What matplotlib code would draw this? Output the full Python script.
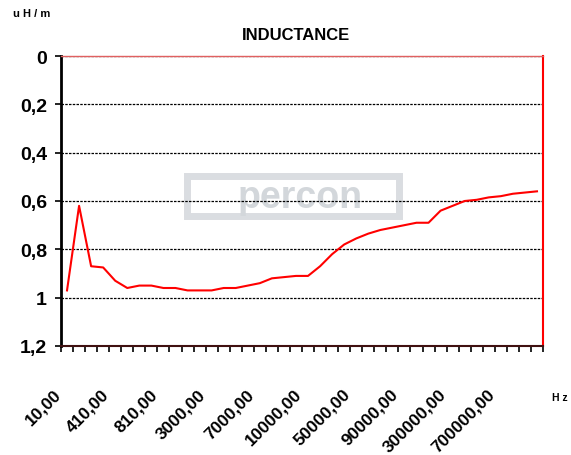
import numpy as np
import matplotlib.pyplot as plt
from matplotlib.patches import Rectangle

# inductance readings, one per frequency step (uH/m)
inductance = [0.97, 0.62, 0.87, 0.875, 0.93, 0.96, 0.95, 0.95, 0.96, 0.96,
              0.97, 0.97, 0.97, 0.96, 0.96, 0.95, 0.94, 0.92, 0.915, 0.91,
              0.91, 0.87, 0.82, 0.78, 0.755, 0.735, 0.72, 0.71, 0.70, 0.69,
              0.69, 0.64, 0.62, 0.60, 0.595, 0.585, 0.58, 0.57, 0.565, 0.56]
# frequency labels shown on the axis (every 4th step)
freq_labels = ["10,00", "410,00", "810,00", "3000,00", "7000,00", "10000,00",
               "50000,00", "90000,00", "300000,00", "700000,00"]
LABEL_STEP = 4
y_ticks = [0, 0.2, 0.4, 0.6, 0.8, 1.0, 1.2]
y_ticklabels = ["0", "0,2", "0,4", "0,6", "0,8", "1", "1,2"]

plt.rcParams["font.family"] = ["Liberation Sans", "DejaVu Sans"]

fig = plt.figure(figsize=(5.71, 4.56), dpi=100)
ax = fig.add_axes([61/571, 1-347/456, 482/571, 290/456])

n = len(inductance)
x = np.arange(n) + 0.5
ax.plot(x, inductance, color="red", linewidth=1.5, zorder=3)

ax.set_xlim(0, n)
ax.set_ylim(1.2, 0)
ax.set_yticks(y_ticks)
ax.set_yticklabels(y_ticklabels, fontsize=14, fontweight="bold")
for v in y_ticks[:-1]:
    ax.axhline(v, color="black", linestyle=(0, (2, 1)), linewidth=0.9, zorder=2)

# ticks between categories, labels on every 4th category centre
ax.set_xticks(np.arange(n + 1))
ax.set_xticklabels([])
ax.tick_params(axis="x", direction="out", length=4, width=1.2)
ax.tick_params(axis="y", direction="out", length=4, width=1.2, pad=6)
for i, lab in enumerate(freq_labels):
    xc = i * LABEL_STEP + 0.5
    ax.annotate(lab, xy=(xc, 1.2), xycoords="data", xytext=(-14, -40),
                textcoords="offset pixels",
                rotation=45, rotation_mode="anchor", ha="right", va="top",
                fontsize=12.5, fontweight="heavy",
                annotation_clip=False)

ax.spines["left"].set_color("black")
ax.spines["left"].set_linewidth(2)
ax.spines["bottom"].set_color("#401010")
ax.spines["bottom"].set_linewidth(1.5)
ax.spines["top"].set_color("#e06060")
ax.spines["top"].set_linewidth(1)
ax.spines["right"].set_color("red")
ax.spines["right"].set_linewidth(1.5)

# faint logo watermark, drawn under the grid
ax.add_patch(Rectangle((0.262, 0.447), 0.44, 0.138, transform=ax.transAxes,
                       facecolor="white", edgecolor="#dadde1",
                       linewidth=5, zorder=0.5))
ax.text(0.496, 0.515, "percon", transform=ax.transAxes, ha="center",
        va="center", fontsize=27, fontweight="bold", color="#d3d7db",
        zorder=0.6)

fig.text(296/571, 1-36/456, "INDUCTANCE", ha="center", va="center",
         fontsize=12, fontweight="bold")
fig.text(32/571, 1-14/456, "u H / m", ha="center", va="center",
         fontsize=8, fontweight="bold")
fig.text(560/571, 1-398/456, "H z", ha="center", va="center",
         fontsize=7.5, fontweight="bold")

fig.savefig("out.png", dpi=100)
